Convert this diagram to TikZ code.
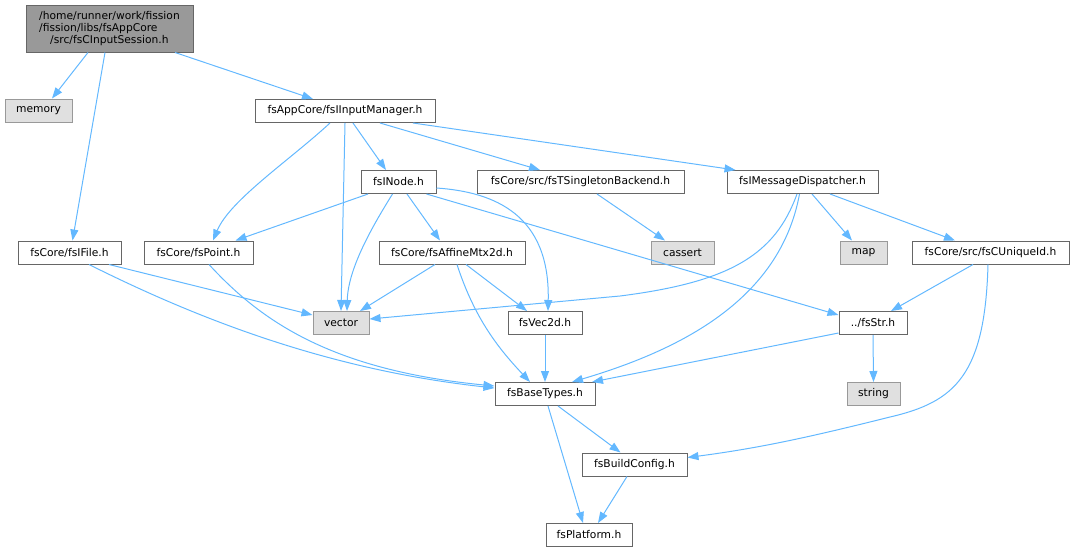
\documentclass[tikz,border=0pt]{standalone}
\usepackage{fontspec}
\setmainfont{DejaVu Sans}
\usetikzlibrary{arrows.meta}
\definecolor{edgec}{HTML}{63B8FF}
\definecolor{boxb}{HTML}{666666}
\definecolor{extb}{HTML}{999999}
\definecolor{extf}{HTML}{E0E0E0}
\definecolor{mainf}{HTML}{999999}
\begin{document}
\begin{tikzpicture}[x=1pt,y=-1pt,
  box/.style={draw=boxb, line width=1pt, fill=white, inner sep=0pt, minimum height=23pt, font=\fontsize{10.7}{12}\selectfont},
  ext/.style={box, draw=extb, fill=extf},
  edge/.style={draw=edgec, line width=1pt, -{Triangle[length=11pt,width=8pt]}}]
\useasboundingbox (0,0) rectangle (1075,552);

\node[box, fill=mainf, minimum width=167pt, minimum height=47pt, align=left] (main) at (109.5,28.5)
  {/home/runner/work/fission\\/fission/libs/fsAppCore\\\hspace*{11pt}/src/fsCInputSession.h};
\node[ext, minimum width=67pt] (memory) at (38.5,110.5) {memory};
\node[box, minimum width=180pt] (mgr) at (345,111) {fsAppCore/fsIInputManager.h};
\node[box, minimum width=75pt] (inode) at (398.5,182) {fsINode.h};
\node[box, minimum width=207pt] (single) at (580.5,182) {fsCore/src/fsTSingletonBackend.h};
\node[box, minimum width=151pt] (disp) at (802.5,182) {fsIMessageDispatcher.h};
\node[box, minimum width=103pt] (file) at (69.5,252.5) {fsCore/fsIFile.h};
\node[box, minimum width=109pt] (point) at (198.5,252.5) {fsCore/fsPoint.h};
\node[box, minimum width=146pt] (affine) at (452,252.5) {fsCore/fsAffineMtx2d.h};
\node[ext, minimum width=63pt] (cassert) at (682.5,252.5) {cassert};
\node[ext, minimum width=47pt] (map) at (863.5,252.5) {map};
\node[box, minimum width=157pt] (uid) at (990.5,252.5) {fsCore/src/fsCUniqueId.h};
\node[ext, minimum width=56pt] (vector) at (341,323) {vector};
\node[box, minimum width=74pt] (vec2d) at (545,323) {fsVec2d.h};
\node[box, minimum width=68pt] (str) at (873,323) {../fsStr.h};
\node[box, minimum width=100pt] (base) at (545,394) {fsBaseTypes.h};
\node[ext, minimum width=53pt] (string) at (873.5,394) {string};
\node[box, minimum width=105pt] (build) at (634.5,464.5) {fsBuildConfig.h};
\node[box, minimum width=86pt] (plat) at (589,535) {fsPlatform.h};

\draw[edge] ([xshift=-21.5pt]main.south) -- ([xshift=13.5pt]memory.north);
\draw[edge] ([xshift=-4.5pt]main.south) -- ([xshift=3pt]file.north);
\draw[edge] ([xshift=65.5pt]main.south) -- ([xshift=-32pt]mgr.north);
\draw[edge] ([xshift=-15pt]mgr.south) .. controls (290,160) and (230,200) .. ([xshift=14.5pt]point.north);
\draw[edge] (mgr.south) -- (vector.north);
\draw[edge] ([xshift=8pt]mgr.south) -- ([xshift=-12.5pt]inode.north);
\draw[edge] ([xshift=35pt]mgr.south) -- ([xshift=-40.5pt]single.north);
\draw[edge] ([xshift=68pt]mgr.south) -- ([xshift=-67pt]disp.north);
\draw[edge] ([xshift=-30.5pt]inode.south) -- ([xshift=37pt]point.north);
\draw[edge] ([xshift=-6pt]inode.south) .. controls (370,230) and (348,270) .. ([xshift=6pt]vector.north);
\draw[edge] ([xshift=8.5pt]inode.south) -- ([xshift=-12pt]affine.north);
\draw[edge] ([yshift=-6pt]inode.east) .. controls (495,192) and (550,215) .. ([xshift=3pt]vec2d.north);
\draw[edge] ([xshift=28pt]inode.south) -- ([yshift=8pt]str.west);
\draw[edge] ([xshift=16.5pt]single.south) -- ([xshift=-17.5pt]cassert.north);
\draw[edge] ([xshift=-5.5pt]disp.south) .. controls (775,255) and (730,282) .. (620,296) -- ([yshift=4pt]vector.east);
\draw[edge] ([xshift=-3pt]disp.south) .. controls (780,300) and (680,350) .. ([xshift=27pt]base.north);
\draw[edge] ([xshift=9.5pt]disp.south) -- ([xshift=-11.5pt]map.north);
\draw[edge] ([xshift=27.5pt]disp.south) -- ([xshift=-35.5pt]uid.north);
\draw[edge] ([xshift=39.5pt]file.south) -- ([yshift=8pt]vector.west);
\draw[edge] ([xshift=19.5pt]file.south) .. controls (200,320) and (330,370) .. ([yshift=6pt]base.west);
\draw[edge] ([xshift=10.5pt]point.south) .. controls (260,320) and (330,370) .. ([yshift=8pt]base.west);
\draw[edge] ([xshift=-17pt]affine.south) -- ([xshift=19pt]vector.north);
\draw[edge] ([xshift=14pt]affine.south) -- ([xshift=-18pt]vec2d.north);
\draw[edge] ([xshift=5pt]affine.south) .. controls (475,320) and (500,350) .. ([xshift=-15pt]base.north);
\draw[edge] (vec2d.south) -- (base.north);
\draw[edge] ([yshift=-10pt]str.west) -- ([xshift=47pt]base.north);
\draw[edge] (str.south) -- (string.north);
\draw[edge] ([xshift=-17.5pt]uid.south) -- ([xshift=18pt]str.north);
\draw[edge] ([xshift=-2.5pt]uid.south) .. controls (985,375) and (955,402) .. (890,417) .. controls (810,437) and (760,448) .. ([yshift=7pt]build.east);
\draw[edge] ([xshift=13pt]base.south) -- ([xshift=-14pt]build.north);
\draw[edge] ([xshift=3pt]base.south) -- ([xshift=-6pt]plat.north);
\draw[edge] ([xshift=-7.5pt]build.south) -- ([xshift=9pt]plat.north);
\end{tikzpicture}
\end{document}
